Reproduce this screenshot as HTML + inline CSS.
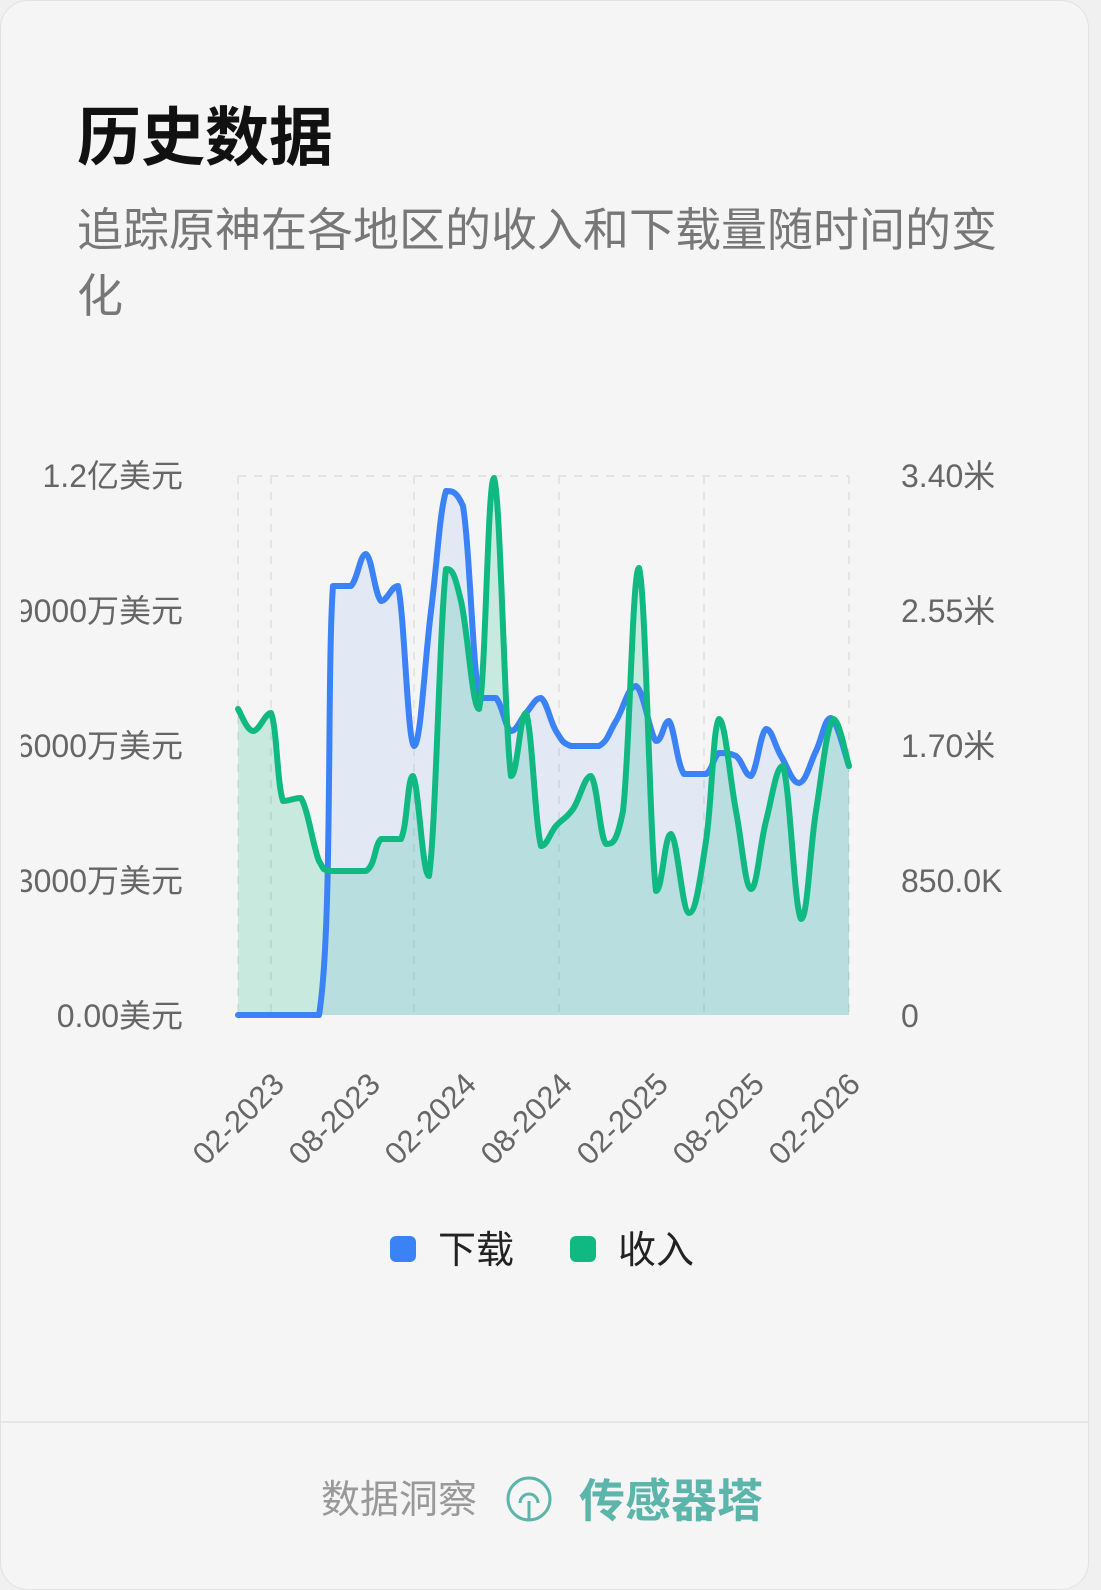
<!DOCTYPE html>
<html><head><meta charset="utf-8"><style>
body{margin:0;width:1101px;height:1588px;background:#f0f0f0;font-family:"Liberation Sans","Noto Sans CJK SC",sans-serif;overflow:hidden}
.card{position:absolute;left:0;top:0;width:1087px;height:1588px;background:#f5f5f5;border-radius:28px;border:1px solid #e2e2e2}
h1{position:absolute;left:76px;top:86px;margin:0;font-size:64px;font-weight:700;color:#111}
.sub{position:absolute;left:76px;top:196px;width:950px;font-size:46px;line-height:66px;color:#777}
.foot{position:absolute;left:0;top:1420px;width:1087px;border-top:2px solid #e6e6e6}
</style></head><body><div class="card">
<h1>历史数据</h1>
<div class="sub">追踪原神在各地区的收入和下载量随时间的变化</div>
<svg width="1101" height="1588" style="position:absolute;left:0;top:0" font-family="Liberation Sans, Noto Sans CJK SC, sans-serif">
<g stroke="#e4e4e4" stroke-width="2" stroke-dasharray="8,8" fill="none">
<line x1="237" y1="475" x2="848" y2="475"/><line x1="237" y1="475" x2="237" y2="1014"/>
<line x1="270" y1="475" x2="270" y2="1014"/><line x1="413" y1="475" x2="413" y2="1014"/>
<line x1="558" y1="475" x2="558" y2="1014"/><line x1="703" y1="475" x2="703" y2="1014"/><line x1="848" y1="475" x2="848" y2="1014"/>
</g>
<g font-size="32" fill="#666" text-anchor="end">
<text x="182" y="486">1.2亿美元</text><text x="182" y="621">9000万美元</text><text x="182" y="756">6000万美元</text><text x="182" y="891">3000万美元</text><text x="182" y="1026">0.00美元</text>
</g>
<rect x="0" y="560" width="20" height="360" fill="#f5f5f5"/>
<g font-size="32" fill="#666">
<text x="900" y="486">3.40米</text><text x="900" y="621">2.55米</text><text x="900" y="756">1.70米</text><text x="900" y="891">850.0K</text><text x="900" y="1026">0</text>
</g>
<path id="ga" fill="rgba(16,185,129,0.2)"/>
<path id="ba" fill="rgba(59,130,246,0.1)"/>
<path id="bl" fill="none" stroke="#3b82f6" stroke-width="6" stroke-linejoin="round" stroke-linecap="round"/>
<path id="gl" fill="none" stroke="#10b981" stroke-width="6" stroke-linejoin="round" stroke-linecap="round"/>
<g font-size="31" fill="#666" text-anchor="end">
<text transform="translate(285,1085) rotate(-45)">02-2023</text>
<text transform="translate(381,1085) rotate(-45)">08-2023</text>
<text transform="translate(477,1085) rotate(-45)">02-2024</text>
<text transform="translate(573,1085) rotate(-45)">08-2024</text>
<text transform="translate(669,1085) rotate(-45)">02-2025</text>
<text transform="translate(765,1085) rotate(-45)">08-2025</text>
<text transform="translate(861,1085) rotate(-45)">02-2026</text>
</g>
<rect x="389" y="1235" width="26" height="26" rx="6" fill="#3b82f6"/>
<text x="437" y="1262" font-size="38" fill="#222">下载</text>
<rect x="569" y="1235" width="26" height="26" rx="6" fill="#10b981"/>
<text x="617" y="1262" font-size="38" fill="#222">收入</text>
<text x="320" y="1512" font-size="39" fill="#999">数据洞察</text>
<circle cx="528" cy="1498" r="21" fill="none" stroke="#5bb5aa" stroke-width="3"/>
<path d="M528 1518 V1500 M519 1502 a9 9 0 1 1 18 0" fill="none" stroke="#5bb5aa" stroke-width="3"/>
<text x="578" y="1516" font-size="46" font-weight="700" fill="#5bb5aa">传感器塔</text>
</svg>
<div class="foot"></div>
</div>
<script>
function P(s){return s.trim().split(/\s+/).map(function(p){return p.split(',').map(Number)})}
function cl(v,a,b){var lo=Math.min(a,b),hi=Math.max(a,b);return Math.min(Math.max(v,lo),hi)}
function smooth(pts){var d='M'+pts[0][0]+','+pts[0][1];for(var i=0;i<pts.length-1;i++){var p0=pts[i-1]||pts[i],p1=pts[i],p2=pts[i+1],p3=pts[i+2]||p2,t=0.2;
var c1x=p1[0]+(p2[0]-p0[0])*t,c1y=p1[1]+(p2[1]-p0[1])*t,c2x=p2[0]-(p3[0]-p1[0])*t,c2y=p2[1]-(p3[1]-p1[1])*t;
c1x=cl(c1x,p1[0],p2[0]);c2x=cl(c2x,p1[0],p2[0]);c1y=cl(c1y,p1[1],p2[1]);c2y=cl(c2y,p1[1],p2[1]);
d+=' C'+c1x+','+c1y+' '+c2x+','+c2y+' '+p2[0]+','+p2[1];}return d}
var b=P("237,1014 318,1014 332,585 350,585 365,553 380,600 397,585 413,745 430,610 445,490 462,505 478,697 495,697 510,730 525,712 540,697 555,730 570,745 598,745 615,720 635,685 655,740 668,720 683,773 705,773 718,752 735,755 750,775 765,728 780,755 798,782 815,750 830,717 848,765");
var g=P("237,708 252,730 270,712 282,800 300,797 318,860 330,870 365,870 380,838 400,838 412,775 428,875 445,568 460,600 478,708 493,477 510,775 525,712 540,845 555,825 572,808 590,775 605,843 622,810 638,567 655,890 670,833 688,912 705,840 718,718 735,810 750,888 765,820 782,765 800,918 815,810 832,718 848,765");
var bd=smooth(b),gd=smooth(g);
document.getElementById('bl').setAttribute('d',bd);document.getElementById('gl').setAttribute('d',gd);
document.getElementById('ba').setAttribute('d',bd+' L848,1014 L237,1014 Z');
document.getElementById('ga').setAttribute('d',gd+' L848,1014 L237,1014 Z');
</script>
</body></html>
